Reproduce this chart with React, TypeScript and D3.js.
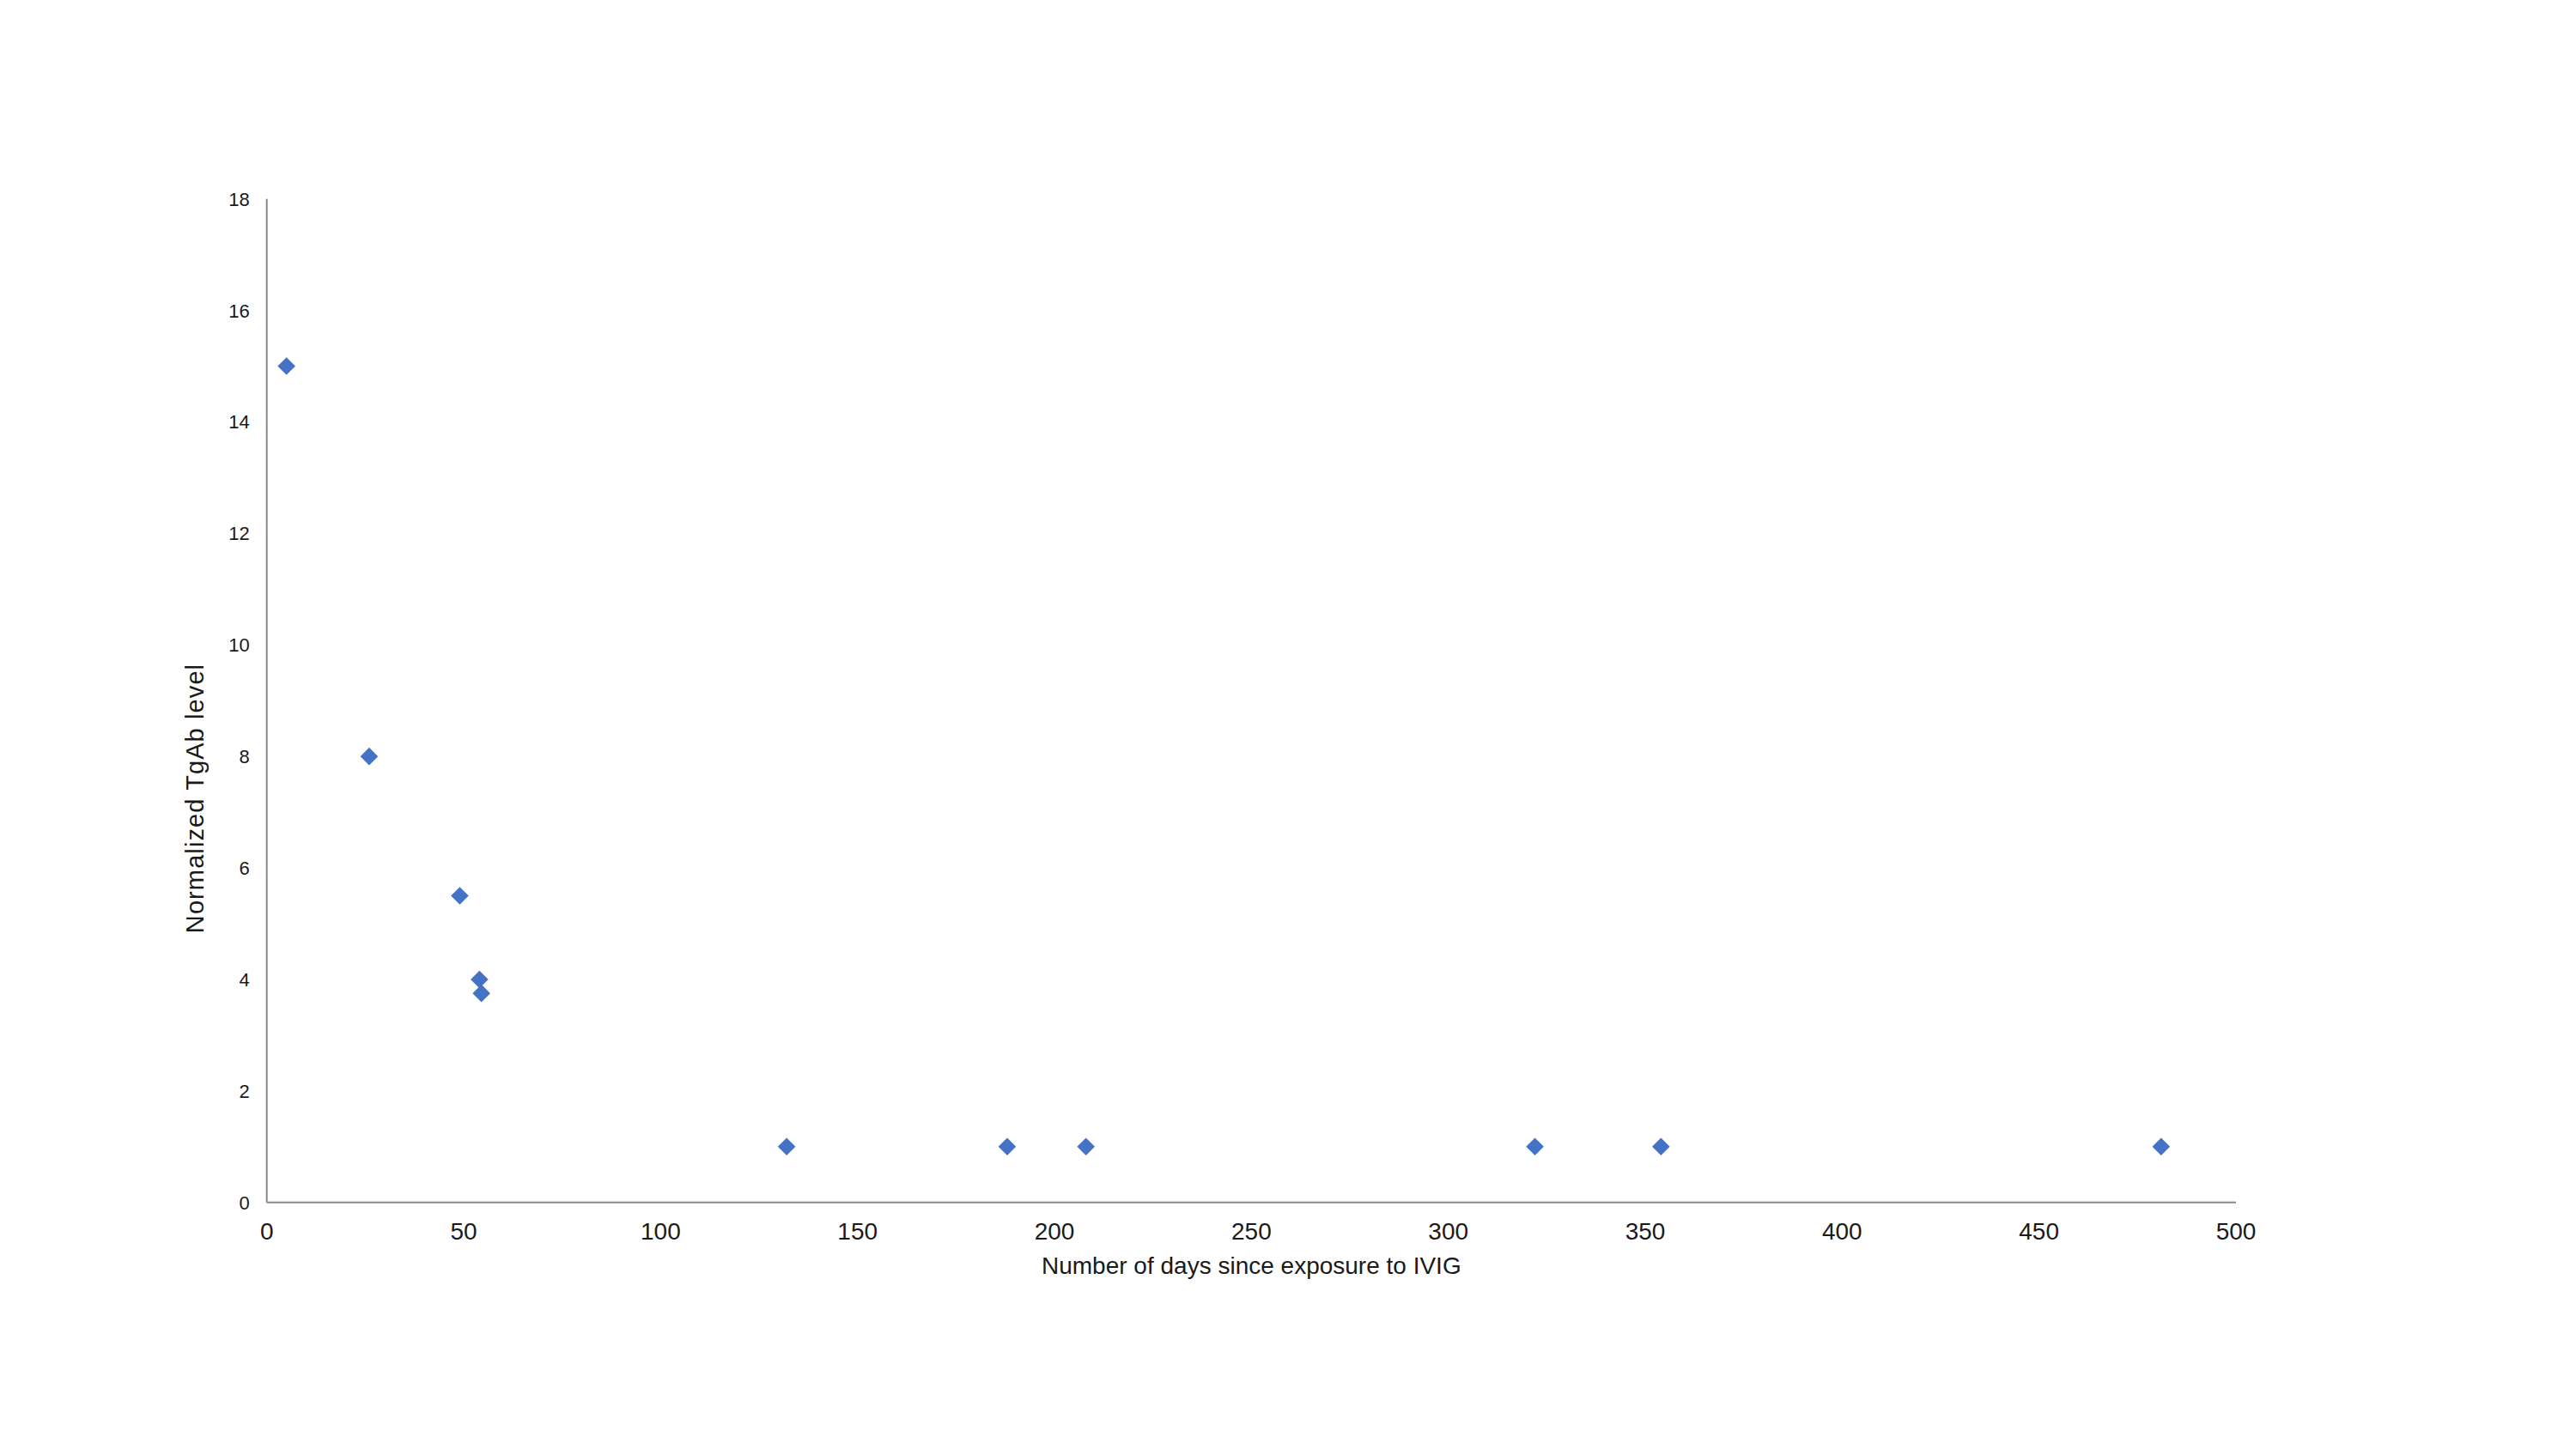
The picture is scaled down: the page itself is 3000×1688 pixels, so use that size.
import { scaleLinear, symbol, symbolSquare } from "d3";

const WIDTH = 3000;
const HEIGHT = 1688;
const PLOT = { left: 310.7, right: 2604, top: 231.7, bottom: 1400.7 };

// days since IVIG exposure and the normalized TgAb level measured on that day
const days = [5, 26, 49, 54, 54.5, 132, 188, 208, 322, 354, 481];
const levels = [15, 8, 5.5, 4, 3.75, 1, 1, 1, 1, 1, 1];

const xTicks = [0, 50, 100, 150, 200, 250, 300, 350, 400, 450, 500];
const yTicks = [0, 2, 4, 6, 8, 10, 12, 14, 16, 18];

const xTitle = "Number of days since exposure to IVIG";
const yTitle = "Normalized TgAb level";

const FONT = "'Liberation Sans', Arial, sans-serif";
const AXIS_COLOR = "#898989";
const MARKER_COLOR = "#4472C4";

export default function App() {
  const xScale = scaleLinear().domain([0, 500]).range([PLOT.left, PLOT.right]);
  const yScale = scaleLinear().domain([0, 18]).range([PLOT.bottom, PLOT.top]);

  const diamond = symbol().type(symbolSquare).size(212)() ?? "";

  return (
    <svg
      width={WIDTH}
      height={HEIGHT}
      viewBox={`0 0 ${WIDTH} ${HEIGHT}`}
      style={{ position: "absolute", left: 0, top: 0, background: "#fff" }}
      fontFamily={FONT}
    >
      <rect x="0" y="0" width={WIDTH} height={HEIGHT} fill="#fff" />

      {/* axes */}
      <line
        x1={xScale(0)}
        x2={xScale(0)}
        y1={yScale(18)}
        y2={yScale(0)}
        stroke={AXIS_COLOR}
        strokeWidth="2"
      />
      <line
        x1={xScale(0)}
        x2={xScale(500)}
        y1={yScale(0)}
        y2={yScale(0)}
        stroke={AXIS_COLOR}
        strokeWidth="2"
      />

      {yTicks.map((tick) => (
        <text
          key={`y-${tick}`}
          x={xScale(0) - 20}
          y={yScale(tick) + 8}
          textAnchor="end"
          fontSize="22"
          fill="#1a1a1a"
        >
          {tick}
        </text>
      ))}

      {xTicks.map((tick) => (
        <text
          key={`x-${tick}`}
          x={xScale(tick)}
          y={1444}
          textAnchor="middle"
          fontSize="28"
          fill="#1a1a1a"
        >
          {tick}
        </text>
      ))}

      <text
        x={(PLOT.left + PLOT.right) / 2}
        y={1483.5}
        textAnchor="middle"
        fontSize="28"
        fill="#1a1a1a"
      >
        {xTitle}
      </text>

      <text
        transform="translate(236.7, 930) rotate(-90)"
        textAnchor="middle"
        fontSize="29"
        letterSpacing="1.1"
        fill="#1a1a1a"
      >
        {yTitle}
      </text>

      {days.map((day, i) => (
        <path
          key={`pt-${i}`}
          d={diamond}
          transform={`translate(${xScale(day)}, ${yScale(levels[i])}) rotate(45)`}
          fill={MARKER_COLOR}
        />
      ))}
    </svg>
  );
}
